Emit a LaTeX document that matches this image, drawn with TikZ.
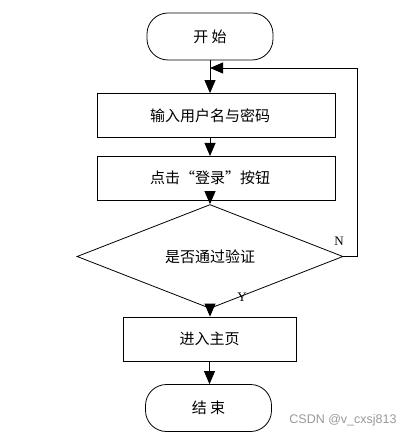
\documentclass[tikz,border=0pt]{standalone}
\usepackage{fontspec}
\newfontfamily\cjk{Noto Sans CJK SC}[Scale=1]
\newfontfamily\wm{Liberation Sans}
\setmainfont{Liberation Serif}
\usetikzlibrary{arrows.meta,shapes.geometric}
\begin{document}
\begin{tikzpicture}[x=1pt,y=-1pt,
  every node/.style={font=\cjk\fontsize{15}{17}\selectfont},
  term/.style={draw,line width=0.8pt,rounded corners=21pt,minimum width=126pt,minimum height=47pt,inner sep=0pt},
  proc/.style={draw,line width=0.8pt,minimum width=238pt,minimum height=44pt,inner sep=0pt},
  dec/.style={draw,line width=0.8pt,diamond,minimum width=266pt,minimum height=67pt,inner sep=0pt},
  conn/.style={line width=0.8pt,-{Triangle[length=13pt,width=11pt]}},
  lab/.style={font=\fontsize{13}{15}\selectfont}
]
\useasboundingbox (0,0) rectangle (419,438);
\node[term] (start) at (210,36.5) {开\ 始};
\node[proc,label={[xshift=-6pt,font=\cjk\fontsize{15}{17}\selectfont]center:输入用户名与密码}] (b1) at (216,115.5) {};
\node[proc,label={[xshift=-6pt,font=\cjk\fontsize{15}{17}\selectfont]center:点击“登录”按钮}] (b2) at (216,178) {};
\node[dec] (dia) at (210,256.5) {是否通过验证};
\node[proc,minimum width=173pt] (b3) at (209.5,339) {进入主页};
\node[term] (end) at (208.5,408) {结\ 束};
\coordinate (fbR) at (357,256.5);
\coordinate (fbT) at (357,68);
\coordinate (fbL) at (210,68);
\draw[conn] (start.south) -- (start.south |- b1.north);
\draw[conn] (210,137.5) -- (210,156);
\draw[conn] (210,200) -- (dia.north);
\draw[conn] (dia.south) -- (dia.south |- b3.north);
\draw[conn] (209.5,361) -- (end.north -| 209.5,0);
\draw[conn] (dia.east) -- (fbR) -- (fbT) -- (fbL);
\node[lab] (N) at (339,241) {N};
\node[lab] (Y) at (242,297) {Y};
\node[font=\wm\fontsize{12.5}{14}\selectfont,text=black!40] (wm) at (343,420) {CSDN @v\_cxsj813};
\end{tikzpicture}
\end{document}
